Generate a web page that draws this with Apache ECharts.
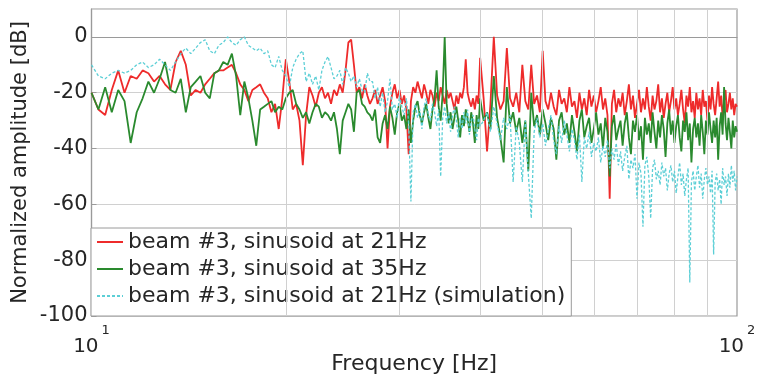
<!DOCTYPE html>
<html>
<head>
<meta charset="utf-8">
<script src="https://cdn.jsdelivr.net/npm/echarts@6/dist/echarts.min.js"></script>
<style>
  html, body { margin: 0; padding: 0; background: #ffffff; }
  #chart { width: 758px; height: 377px; }
</style>
</head>
<body>
<div id="chart"></div>
<script>
// Spectra of beam #3: bins of 0.25 Hz from 10 to 40 Hz, then 0.5 Hz from 40.5 to 100 Hz.
const lowStart = 10, lowStep = 0.25;
const highStart = 40.5, highStep = 0.5;

// beam #3, sinusoid at 21Hz (dB)
const redLow = [
  -20, -26, -28, -19, -12, -20, -14, -15, -12, -13, -16, -14, -17, -19, -9, -5, -10, -21, -19, -20,
  -17, -15, -13, -12, -12, -11, -10, -13, -17, -19, -23, -19, -18, -17, -20, -22, -27, -24, -33, -22,
  -8, -16, -26, -24, -30, -46, -28, -18, -21, -25, -20, -18, -22, -20, -24, -19, -21, -17, -20, -12,
  -2, -1, -10, -20, -18, -22, -17, -21, -24, -22, -19, -24, -21, -18, -23, -40, -25, -20, -17, -22,
  -19, -24, -21, -26, -42, -23, -18, -20, -16, -19, -22, -17, -20, -24, -19, -21, -25, -20, -23, -18,
  -21, -24, -19, -22, -20, -23, -26, -21, -24, -20, -22, -18, -8, -20, -23, -25, -22, -26, -21, -24,
  -7.5
];
const redHigh = [
  -22, -41, -24, 0, -21, -26, -23, -4, -22, -25, -20, -27, -10, -23, -26, -10, -24, -21, -27, -5,
  -23, -26, -20, -25, -28, -19, -24, -22, -27, -18, -25, -23, -29, -20, -26, -22, -28, -19, -25, -21,
  -27, -23, -18, -26, -22, -28, -58, -24, -19, -27, -22, -25, -20, -28, -23, -17, -26, -21, -29, -24,
  -19, -27, -22, -26, -18, -25, -30, -21, -26, -23, -17, -27, -22, -29, -24, -20, -27, -23, -18, -26,
  -22, -28, -24, -19, -26, -31, -21, -25, -18, -27, -23, -29, -20, -26, -22, -28, -19, -25, -23, -30,
  -21, -26, -18, -24, -28, -22, -16, -25, -21, -29, -23, -19, -27, -24, -20, -26, -22, -28, -24, -25
];

// beam #3, sinusoid at 35Hz (dB)
const greenLow = [
  -20, -26, -18, -27, -19, -23, -38, -27, -22, -16, -20, -15, -9, -19, -20, -15, -27, -18, -16, -14,
  -20, -22, -13, -12, -9, -10, -6, -14, -28, -16, -22, -30, -39, -26, -25, -24, -23, -27, -25, -26,
  -22, -20, -19, -24, -26, -29, -27, -31, -27, -24, -25, -29, -27, -28, -30, -27, -33, -42, -30, -27,
  -24, -26, -34, -20, -19, -24, -25, -27, -28, -30, -26, -36, -38, -31, -28, -33, -25, -29, -35, -27,
  -24, -30, -28, -33, -26, -38, -30, -25, -23, -28, -31, -27, -24, -29, -33, -26, -22, -12, -25, -30,
  -20, 0, -24, -31, -27, -33, -29, -25, -30, -36, -28, -32, -26, -29, -34, -27, -31, -38, -28, -33,
  -22
];
const greenHigh = [
  -30, -27, -33, -14, -29, -36, -45, -18, -31, -27, -34, -29, -38, -30, -48, -20, -32, -28, -35, -26,
  -31, -37, -29, -33, -44, -30, -27, -35, -31, -38, -28, -34, -41, -30, -26, -36, -32, -29, -38, -33,
  -27, -35, -31, -40, -29, -34, -50, -32, -28, -37, -33, -30, -39, -31, -27, -36, -42, -30, -34, -28,
  -37, -32, -44, -29, -35, -31, -38, -27, -34, -40, -30, -36, -28, -33, -43, -31, -26, -35, -30, -38,
  -32, -28, -36, -41, -30, -34, -27, -37, -31, -45, -33, -29, -36, -31, -39, -28, -34, -42, -30, -35,
  -27, -33, -38, -30, -36, -29, -44, -32, -27, -35, -18, -31, -37, -29, -34, -40, -30, -36, -32, -34
];

// beam #3, sinusoid at 21Hz (simulation) (dB)
const cyanLow = [
  -10, -14, -15, -13, -12, -13, -12, -10, -9, -11, -10, -8, -10, -12, -9, -6, -4, -6, -4, -2,
  -1, -5, -6, -3, -2, 0, -2, -3, -1, 0, -3, -4, -5, -4, -6, -5, -10, -11, -7, -12,
  -14, -18, -11, -8, -6, -5, -16, -13, -17, -14, -19, -12, -9, -7, -11, -15, -14, -12, -17, -11,
  -13, -16, -14, -18, -15, -19, -20, -13, -16, -16, -22, -18, -25, -20, -27, -23, -15, -26, -24, -29,
  -21, -25, -28, -22, -31, -59, -27, -24, -29, -26, -33, -25, -22, -28, -30, -24, -27, -32, -26, -50,
  -29, -25, -31, -27, -34, -28, -25, -30, -36, -29, -33, -27, -31, -26, -35, -30, -28, -33, -37, -29,
  -32
];
const cyanHigh = [
  -30, -27, -34, -25, -31, -37, -29, -33, -28, -52, -32, -38, -52, -30, -49, -65, -34, -29, -36, -31,
  -39, -33, -28, -37, -42, -32, -38, -30, -35, -41, -33, -37, -44, -35, -52, -36, -40, -34, -43, -38,
  -41, -36, -45, -39, -43, -37, -47, -40, -44, -38, -46, -41, -48, -43, -39, -51, -44, -47, -42, -58,
  -45, -49, -68, -46, -43, -50, -65, -47, -44, -51, -48, -53, -45, -50, -47, -55, -49, -46, -52, -48,
  -56, -50, -45, -53, -49, -57, -51, -47, -88, -52, -48, -55, -50, -46, -54, -49, -58, -51, -47, -53,
  -50, -56, -48, -78, -52, -49, -55, -51, -60, -47, -53, -50, -57, -49, -54, -46, -52, -48, -55, -50
];

const seriesNames = [
  'beam #3, sinusoid at 21Hz',
  'beam #3, sinusoid at 35Hz',
  'beam #3, sinusoid at 21Hz (simulation)'
];
const xTickExponents = { 10: '1', 100: '2' };
const xGridLines = [20, 30, 40, 50, 60, 70, 80, 90];

// Pair each amplitude with the centre frequency of its bin.
function toPairs(low, high) {
  const pts = [];
  low.forEach((v, i) => pts.push([lowStart + i * lowStep, v]));
  high.forEach((v, i) => pts.push([highStart + i * highStep, v]));
  return pts;
}

const FONT = 'DejaVu Sans';
const TEXT = '#262626';

const chart = echarts.init(document.getElementById('chart'), null, { renderer: 'canvas' });

chart.setOption({
  animation: false,
  backgroundColor: '#ffffff',
  grid: {
    left: 91.5, right: 21, top: 9, bottom: 61,
    outerBoundsMode: 'none',
    containLabel: false,
    show: true, borderColor: '#9a9a9a', borderWidth: 1.2, backgroundColor: '#ffffff'
  },
  legend: {
    data: seriesNames,
    orient: 'vertical',
    left: 91, top: 228,
    padding: [3, 6, 9, 5],
    itemGap: 5,
    itemWidth: 26,
    itemHeight: 12,
    itemStyle: { opacity: 0 },
    backgroundColor: '#ffffff',
    borderColor: '#9a9a9a',
    borderWidth: 1,
    borderRadius: 0,
    textStyle: { fontFamily: FONT, fontSize: 22, color: TEXT },
    selectedMode: false
  },
  xAxis: {
    type: 'log',
    logBase: 10,
    min: 10,
    max: 100,
    name: 'Frequency [Hz]',
    nameLocation: 'middle',
    nameGap: 37,
    nameMoveOverlap: false,
    nameTextStyle: { fontFamily: FONT, fontSize: 22, color: TEXT },
    axisLine: { show: true, lineStyle: { color: '#9a9a9a', width: 1.2 } },
    axisTick: { show: false },
    splitLine: { show: false },
    axisLabel: {
      margin: 8,
      formatter: function (v) {
        const e = xTickExponents[Math.round(v)];
        return e ? '{b|10}{s|' + e + '}' : '';
      },
      rich: {
        b: { fontFamily: FONT, fontSize: 20, color: TEXT, lineHeight: 33, verticalAlign: 'bottom' },
        s: { fontFamily: FONT, fontSize: 13, color: TEXT, lineHeight: 13, verticalAlign: 'top', padding: [0, 0, 0, 3] }
      }
    }
  },
  yAxis: {
    type: 'value',
    min: -100,
    max: 10,
    interval: 20,
    name: 'Normalized amplitude [dB]',
    nameLocation: 'middle',
    nameRotate: 90,
    nameGap: 60,
    nameMoveOverlap: false,
    nameTextStyle: { fontFamily: FONT, fontSize: 21, color: TEXT },
    axisLine: { show: true, lineStyle: { color: '#9a9a9a', width: 1.2 } },
    axisTick: { show: true, inside: true, length: 5, lineStyle: { color: '#9a9a9a' } },
    splitLine: { show: true, lineStyle: { color: '#d0d0d0', width: 1 } },
    axisLabel: {
      fontFamily: FONT, fontSize: 21, color: TEXT, margin: 4,
      showMaxLabel: false,
      formatter: v => (v % 20 === 0 ? String(v) : '')
    }
  },
  series: [
    {
      // vertical grid lines at the intermediate decades
      type: 'line',
      data: [],
      silent: true,
      z: 1,
      markLine: {
        silent: true,
        symbol: ['none', 'none'],
        label: { show: false },
        lineStyle: { color: '#d0d0d0', type: 'solid', width: 1 },
        data: xGridLines.map(f => ({ xAxis: f }))
      }
    },
    {
      name: seriesNames[0],
      type: 'line',
      z: 3,
      data: toPairs(redLow, redHigh),
      showSymbol: false,
      symbol: 'none',
      lineStyle: { color: '#ee2b2b', width: 1.8 },
      itemStyle: { color: '#ee2b2b' }
    },
    {
      name: seriesNames[1],
      type: 'line',
      z: 4,
      data: toPairs(greenLow, greenHigh),
      showSymbol: false,
      symbol: 'none',
      lineStyle: { color: '#2a8a2e', width: 1.8 },
      itemStyle: { color: '#2a8a2e' }
    },
    {
      name: seriesNames[2],
      type: 'line',
      z: 5,
      data: toPairs(cyanLow, cyanHigh),
      showSymbol: false,
      symbol: 'none',
      lineStyle: { color: '#5ccfd6', width: 1.3, type: [3, 2] },
      itemStyle: { color: '#5ccfd6' }
    }
  ]
});
</script>
</body>
</html>
